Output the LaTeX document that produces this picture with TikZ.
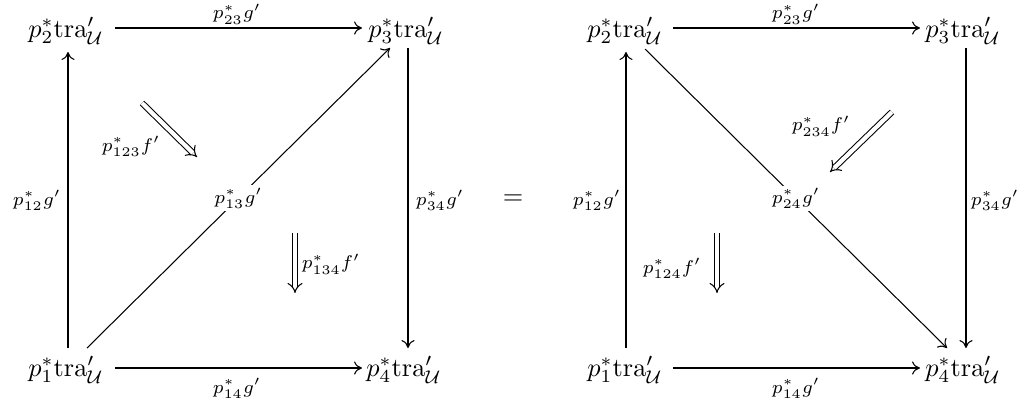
\documentclass[tikz,border=0pt]{standalone}
\usetikzlibrary{arrows.meta,calc}
\begin{document}
\begin{tikzpicture}[x=0.38pt,y=-0.38pt,
  obj/.style={inner sep=0pt},
  lab/.style={inner sep=0pt},
  arr/.style={-{To[length=3pt,width=5pt]}, line width=0.4pt},
  dbl/.style={double, double distance=1.6pt, line width=0.4pt, -{Implies}},
  desc/.style={fill=white, inner sep=1pt}]
\useasboundingbox (0,0) rectangle (1027,404);
% left diagram
\node[obj] (A2) at (66,31) {$p_2^*\mathrm{tra}'_{\mathcal U}$};
\node[obj] (A3) at (406,31) {$p_3^*\mathrm{tra}'_{\mathcal U}$};
\node[obj] (A1) at (66,370) {$p_1^*\mathrm{tra}'_{\mathcal U}$};
\node[obj] (A4) at (404,370) {$p_4^*\mathrm{tra}'_{\mathcal U}$};
\draw[arr] ($(A2)+(49,-3)$) -- ($(A3)+(-44,-3)$);
\draw[arr] ($(A1)+(49,-2)$) -- ($(A4)+(-42,-2)$);
\draw[arr] ($(A1)+(2,-22)$) -- ($(A2)+(2,21)$);
\draw[arr] ($(A3)+(2,17)$) -- ($(A4)+(4,-22)$);
\draw[arr] ($(A1)+(21,-22)$) -- node[desc] (l13) {$\scriptstyle p_{13}^*g'$} ($(A3)+(-16,17)$);
\node[lab] (l23) at (237,14) {$\scriptstyle p_{23}^*g'$};
\node[lab] (l14) at (237,388) {$\scriptstyle p_{14}^*g'$};
\node[lab] (l12) at (37,200) {$\scriptstyle p_{12}^*g'$};
\node[lab] (l34) at (440,200) {$\scriptstyle p_{34}^*g'$};
\coordinate (d1s) at (142,103); \coordinate (d1e) at (197,157);
\draw[dbl] (d1s) -- (d1e);
\node[lab] (l123) at (131,146) {$\scriptstyle p_{123}^*f'$};
\coordinate (d2s) at (295,233); \coordinate (d2e) at (295,293);
\draw[dbl] (d2s) -- (d2e);
\node[lab] (l134) at (331,264) {$\scriptstyle p_{134}^*f'$};
% equals
\node (eq) at (513,200) {$=$};
% right diagram
\node[obj] (B2) at (625,31) {$p_2^*\mathrm{tra}'_{\mathcal U}$};
\node[obj] (B3) at (963,31) {$p_3^*\mathrm{tra}'_{\mathcal U}$};
\node[obj] (B1) at (625,370) {$p_1^*\mathrm{tra}'_{\mathcal U}$};
\node[obj] (B4) at (963,370) {$p_4^*\mathrm{tra}'_{\mathcal U}$};
\draw[arr] ($(B2)+(48,-3)$) -- ($(B3)+(-43,-3)$);
\draw[arr] ($(B1)+(48,-2)$) -- ($(B4)+(-43,-2)$);
\draw[arr] ($(B1)+(1,-22)$) -- ($(B2)+(1,21)$);
\draw[arr] ($(B3)+(3,17)$) -- ($(B4)+(3,-22)$);
\draw[arr] ($(B2)+(20,18)$) -- node[desc] (l24) {$\scriptstyle p_{24}^*g'$} ($(B4)+(-16,-22)$);
\node[lab] (r23) at (796,14) {$\scriptstyle p_{23}^*g'$};
\node[lab] (r14) at (796,388) {$\scriptstyle p_{14}^*g'$};
\node[lab] (r12) at (597,200) {$\scriptstyle p_{12}^*g'$};
\node[lab] (r34) at (995,200) {$\scriptstyle p_{34}^*g'$};
\coordinate (d3s) at (892,112); \coordinate (d3e) at (830,172);
\draw[dbl] (d3s) -- (d3e);
\node[lab] (l234) at (821,126) {$\scriptstyle p_{234}^*f'$};
\coordinate (d4s) at (717,233); \coordinate (d4e) at (717,293);
\draw[dbl] (d4s) -- (d4e);
\node[lab] (l124) at (672,268) {$\scriptstyle p_{124}^*f'$};
\end{tikzpicture}
\end{document}
